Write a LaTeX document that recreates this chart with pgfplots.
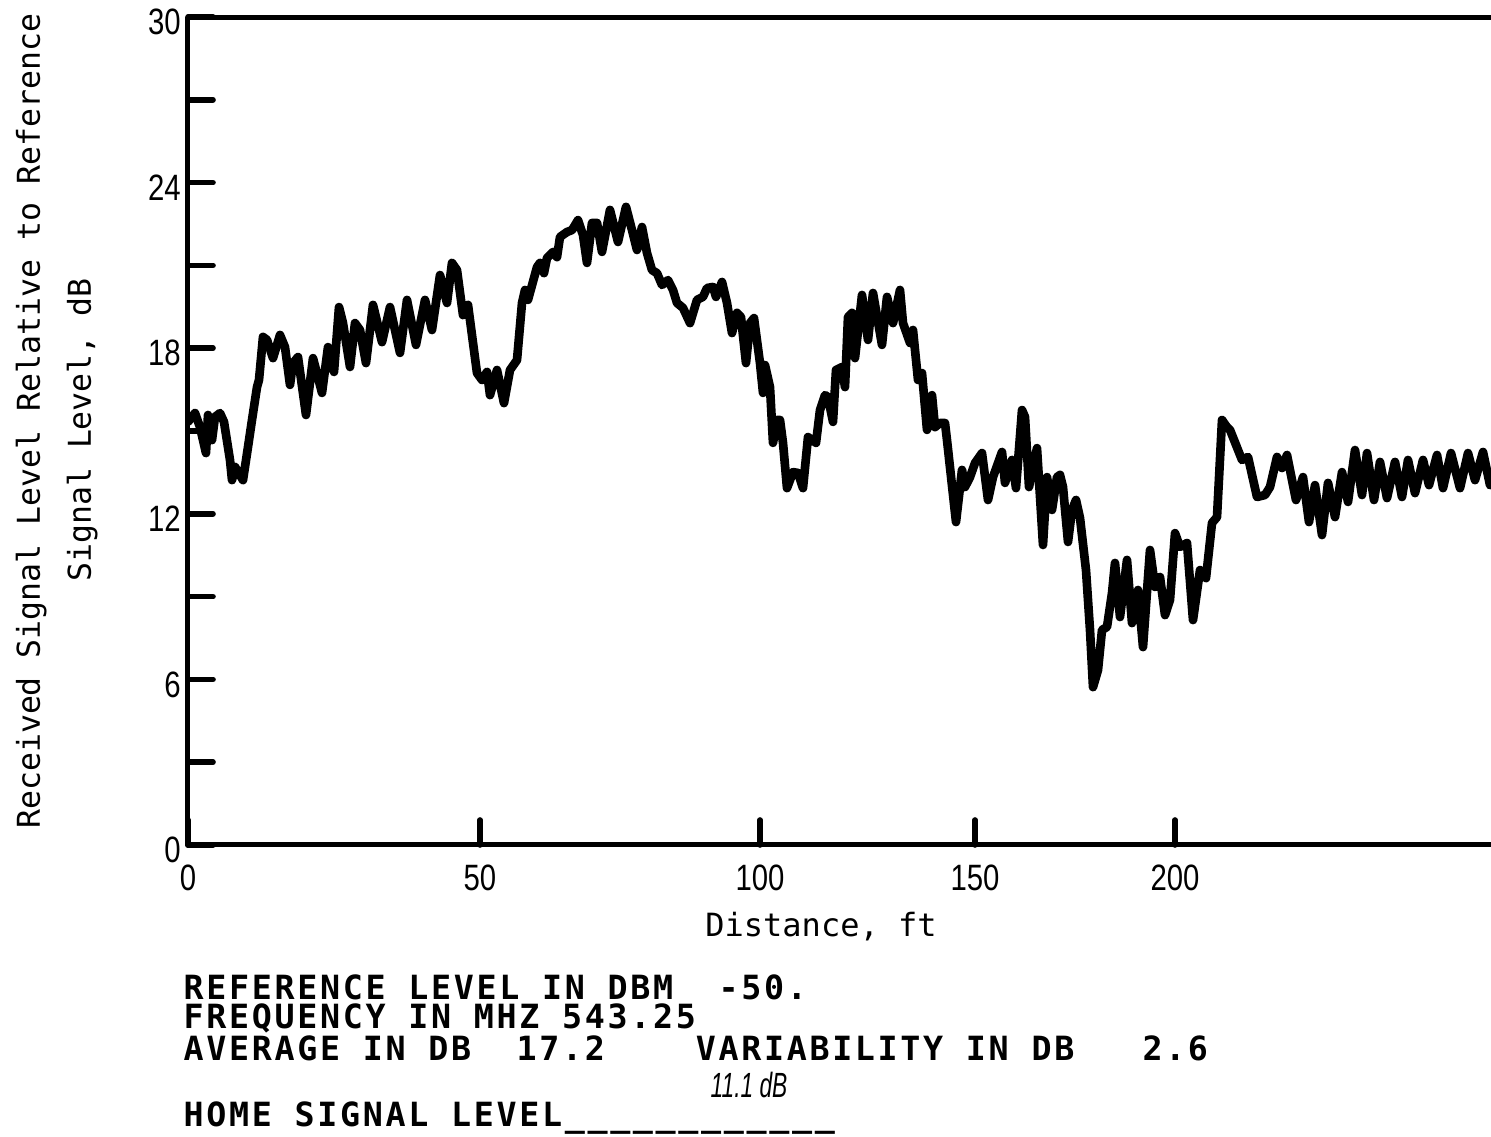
\documentclass[border=0pt]{standalone}
\usepackage{pgfplots}
\usepackage{pgfplotstable}
\pgfplotsset{compat=1.18}
\usepackage{fontspec}
\setmainfont{DejaVu Sans Mono}
\newfontfamily\labfont{DejaVu Sans Mono}
\newfontfamily\printfont[LetterSpace=8]{DejaVu Sans Mono}
\newfontfamily\tickfont[FakeStretch=0.8]{Liberation Sans}
\newfontfamily\handfont[FakeStretch=0.65]{Liberation Sans}

% x: position along the chart (0 = start of run, 1303 = right edge), y: dB
\pgfplotstableread{
u db
0 15.33
7 15.65
12 15.14
18 14.20
20 15.58
24 14.67
27 15.51
32 15.65
36 15.33
42 13.95
44 13.22
47 13.70
55 13.22
60 14.42
64 15.40
69 16.59
71 16.85
75 18.41
79 18.30
85 17.64
92 18.48
97 18.04
102 16.67
105 17.46
110 17.68
118 15.58
125 17.64
134 16.38
140 18.04
146 17.14
151 19.49
155 18.91
162 17.32
167 18.91
172 18.66
178 17.46
185 19.57
194 18.22
202 19.49
212 17.83
219 19.75
228 18.12
237 19.75
244 18.66
252 20.65
259 19.64
264 21.09
269 20.83
275 19.20
280 19.57
289 17.10
294 16.85
299 17.14
302 16.30
309 17.21
316 16.01
322 17.21
329 17.57
334 19.64
337 20.11
340 19.75
349 20.94
352 21.09
356 20.72
359 21.27
365 21.49
369 21.30
372 22.03
379 22.21
384 22.28
390 22.64
395 22.10
399 21.09
404 22.54
409 22.54
414 21.49
422 23.01
430 21.85
438 23.12
444 22.28
449 21.56
454 22.39
459 21.45
464 20.83
469 20.72
474 20.29
480 20.47
485 20.11
489 19.64
495 19.46
502 18.91
509 19.75
515 19.86
519 20.18
525 20.22
528 19.86
534 20.40
539 19.64
544 18.55
549 19.28
553 19.13
558 17.46
562 18.91
566 19.09
572 17.46
575 16.38
577 17.39
582 16.59
585 14.57
589 15.40
592 15.40
595 14.57
599 12.93
605 13.51
610 13.48
615 12.93
620 14.78
628 14.57
632 15.76
637 16.30
640 16.23
645 15.33
648 17.21
654 17.32
657 16.59
660 19.13
664 19.28
667 17.64
674 19.93
680 18.30
685 20.00
694 18.12
699 19.86
705 18.91
712 20.11
715 18.91
722 18.19
725 18.66
730 16.85
734 17.10
739 15.04
744 16.30
747 15.14
752 15.29
757 15.29
759 14.67
768 11.70
774 13.59
777 12.97
782 13.33
787 13.84
794 14.20
800 12.50
805 13.33
814 14.24
817 13.12
824 13.95
828 12.93
834 15.76
837 15.51
841 12.97
849 14.38
855 10.87
859 13.33
864 12.14
869 13.33
872 13.41
875 12.97
880 10.98
884 12.14
888 12.50
892 11.85
898 9.96
902 7.79
905 5.72
910 6.34
914 7.79
919 7.90
924 9.13
927 10.22
932 8.26
939 10.33
944 8.04
950 9.24
955 7.17
962 10.69
967 9.35
972 9.71
977 8.33
982 8.88
987 11.30
992 10.80
999 10.94
1005 8.15
1012 9.96
1018 9.67
1024 11.67
1029 11.88
1034 15.40
1039 15.14
1042 15.04
1054 13.95
1060 14.06
1069 12.61
1077 12.68
1082 12.97
1089 14.06
1094 13.66
1099 14.13
1108 12.50
1115 13.33
1121 11.70
1127 13.04
1134 11.23
1140 13.12
1147 11.88
1154 13.51
1160 12.43
1167 14.31
1174 12.68
1179 14.20
1186 12.50
1192 13.88
1199 12.57
1207 13.88
1214 12.61
1220 13.95
1227 12.75
1235 13.95
1241 13.04
1249 14.13
1255 12.93
1263 14.20
1272 12.93
1280 14.20
1287 13.22
1295 14.24
1302 13.04
}\signal

\begin{document}
\begin{tikzpicture}
\begin{axis}[
  scale only axis,
  width=390.9pt, height=248.4pt,
  at={(0pt,0pt)}, anchor=south west,
  xmin=0, xmax=1303, ymin=0, ymax=30,
  axis x line*=box, axis y line*=left,
  axis line style={line width=1.5pt, black},
  xtick pos=left, ytick pos=left,
  tick align=inside,
  major tick length=7.5pt, minor tick length=7.5pt,
  every tick/.style={line width=1.7pt, black, line cap=round},
  xtick={0,292,572,787,987},
  xticklabels={0,50,100,150,200},
  ytick={0,6,12,18,24,30},
  yticklabels={0,6,12,18,24,30},
  minor ytick={3,9,15,21,27},
  ticklabel style={font=\tickfont\fontsize{11pt}{12pt}\selectfont},
  xticklabel style={yshift=-2.5pt},
  yticklabel style={inner sep=2pt, yshift=-1.5pt},
]
\addplot[black, line width=2.6pt, line join=round, line cap=round, mark=none] table[x=u, y=db] {\signal};
\end{axis}

\begin{scope}[x=0.3pt, y=-0.3pt, shift={(-56.4pt,253.5pt)}]
  \node[rotate=90, anchor=base, inner sep=0pt, font=\labfont\fontsize{9.45pt}{11pt}\selectfont] at (40,421) {Received Signal Level Relative to Reference};
  \node[rotate=90, anchor=base, inner sep=0pt, font=\labfont\fontsize{9.45pt}{11pt}\selectfont] at (91,430) {Signal Level, dB};
  \node[anchor=base, inner sep=0pt, font=\labfont\fontsize{9.6pt}{11pt}\selectfont] at (821,936) {Distance, ft};
  \begin{scope}[every node/.style={anchor=base west, inner sep=0pt, font=\printfont\bfseries\fontsize{10pt}{11pt}\selectfont}]
    \node at (183,999) {REFERENCE LEVEL IN DBM\ \ -50.};
    \node at (183,1028) {FREQUENCY IN MHZ 543.25};
    \node at (183,1060) {AVERAGE IN DB\ \ 17.2\ \ \ \ VARIABILITY IN DB\ \ \ 2.6};
    \node at (183,1126) {HOME SIGNAL LEVEL\_\_\_\_\_\_\_\_\_\_\_\_};
  \end{scope}
  \node[anchor=base west, inner sep=0pt, font=\handfont\itshape\fontsize{10.5pt}{12pt}\selectfont] at (710,1097) {11.1 dB};
\end{scope}

\pgfresetboundingbox
\begin{scope}[x=0.3pt, y=-0.3pt, shift={(-56.4pt,253.5pt)}]
  \useasboundingbox (0,0) rectangle (1491,1136);
\end{scope}
\end{tikzpicture}
\end{document}
